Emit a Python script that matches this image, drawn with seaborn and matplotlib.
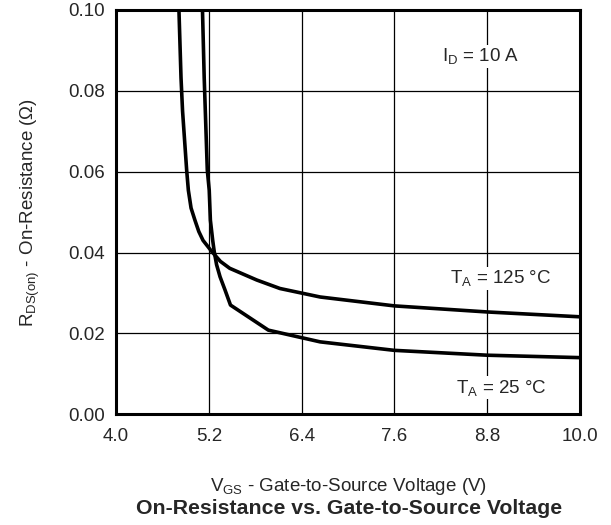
import pandas as pd
import matplotlib
matplotlib.use("Agg")
import matplotlib.pyplot as plt
import seaborn as sns

# R_DS(on) vs V_GS, I_D = 10 A
vgs_125 = [4.81, 4.84, 4.86, 4.913, 4.935, 4.97, 5.02, 5.07, 5.125, 5.24, 5.35, 5.47, 5.82, 6.12, 6.64, 7.6, 8.8, 10.0]
rds_125 = [0.102, 0.0832, 0.075, 0.0604, 0.0554, 0.051, 0.048, 0.0452, 0.043, 0.0402, 0.0378, 0.0361, 0.0332, 0.0311, 0.029, 0.0268, 0.0253, 0.0241]

vgs_25 = [5.115, 5.14, 5.18, 5.205, 5.22, 5.25, 5.27, 5.30, 5.345, 5.41, 5.48, 5.97, 6.64, 7.6, 8.8, 10.0]
rds_25 = [0.102, 0.0832, 0.0604, 0.0554, 0.048, 0.043, 0.0402, 0.037, 0.034, 0.0307, 0.027, 0.0208, 0.0179, 0.0158, 0.0146, 0.014]

x_ticks = [4.0, 5.2, 6.4, 7.6, 8.8, 10.0]
y_ticks = [0.00, 0.02, 0.04, 0.06, 0.08, 0.10]

df = pd.concat([
    pd.DataFrame({"vgs": vgs_125, "rds": rds_125, "temp": "125"}),
    pd.DataFrame({"vgs": vgs_25, "rds": rds_25, "temp": "25"}),
])

sns.set_style("white")
plt.rcParams["font.family"] = ["Liberation Sans", "DejaVu Sans"]
plt.rcParams["mathtext.fontset"] = "custom"
plt.rcParams["mathtext.rm"] = "Liberation Sans"
plt.rcParams["mathtext.it"] = "Liberation Sans"

fig = plt.figure(figsize=(6.11, 5.25), dpi=100)
ax = fig.add_axes([0.190, 0.211, 0.759, 0.770])

sns.lineplot(data=df, x="vgs", y="rds", units="temp", estimator=None, sort=False,
             color="black", linewidth=2.6, ax=ax, legend=False)

ax.set_xlim(4.0, 10.0)
ax.set_ylim(0.0, 0.10)
ax.set_xticks(x_ticks)
ax.set_xticklabels(["%.1f" % v for v in x_ticks])
ax.set_yticks(y_ticks)
ax.set_yticklabels(["%.2f" % v for v in y_ticks])
ax.tick_params(length=0, labelsize=13.5)
ax.tick_params(axis="x", pad=10)
ax.tick_params(axis="y", pad=8)
ax.grid(True, color="black", linewidth=0.9)
ax.set_axisbelow(True)
for s in ax.spines.values():
    s.set_color("black")
    s.set_linewidth(2.2)

ax.set_xlabel(r"V$_{\mathrm{GS}}$ - Gate-to-Source Voltage (V)", fontsize=13.5, labelpad=22)
ax.set_ylabel(r"R$_{\mathrm{DS(on)}}$ - On-Resistance ($\Omega$)", fontsize=13.5, labelpad=19)

box = dict(facecolor="white", edgecolor="none", pad=1)
ax.text(8.713, 0.0885, r"I$_{\mathrm{D}}$ = 10 A", fontsize=13.5, ha="center", va="center", bbox=box)
ax.text(8.98, 0.0336, r"T$_{\mathrm{A}}$ = 125 °C", fontsize=13.5, ha="center", va="center", bbox=box)
ax.text(8.98, 0.0066, r"T$_{\mathrm{A}}$ = 25 °C", fontsize=13.5, ha="center", va="center", bbox=box)

fig.text(0.571, 0.032, "On-Resistance vs. Gate-to-Source Voltage", fontsize=15.3,
         fontweight="bold", ha="center", va="center")

fig.savefig("out.png", dpi=100)
